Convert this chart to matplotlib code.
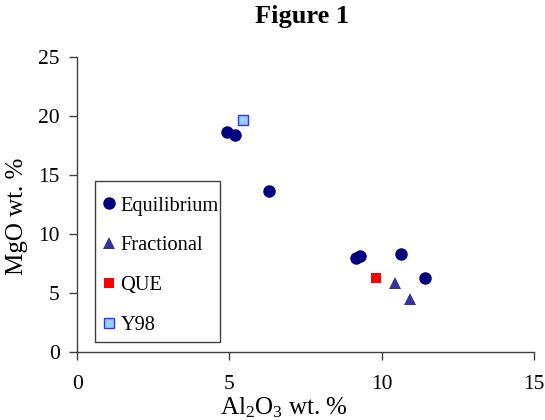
import matplotlib
matplotlib.use("Agg")
import matplotlib.pyplot as plt
from matplotlib.patches import Rectangle

plt.rcParams['font.family'] = ['Liberation Serif', 'DejaVu Serif']
plt.rcParams['mathtext.fontset'] = 'custom'
plt.rcParams['mathtext.rm'] = 'Liberation Serif'
plt.rcParams['mathtext.it'] = 'Liberation Serif:italic'
plt.rcParams['mathtext.bf'] = 'Liberation Serif:bold'

# Data
eq_al = [4.91, 5.17, 6.31, 9.16, 9.29, 10.65, 11.44]
eq_mg = [18.64, 18.42, 13.68, 7.97, 8.11, 8.34, 6.27]
fr_al = [10.45, 10.93]
fr_mg = [5.86, 4.48]
que_al = [9.83]
que_mg = [6.30]
y98_al = [5.44]
y98_mg = [19.63]

x_ticks = [0, 5, 10, 15]
y_ticks = [0, 5, 10, 15, 20, 25]

fig = plt.figure(figsize=(5.45, 4.2), dpi=100)
ax = fig.add_axes([0.1418, 0.1612, 0.9793 - 0.1418, 0.865 - 0.1612])

ax.plot(eq_al, eq_mg, 'o', color='#000080', markersize=9, markeredgewidth=0, label='Equilibrium', clip_on=False)
ax.plot(fr_al, fr_mg, '^', color='#333399', markersize=8.5, markeredgewidth=0, label='Fractional', clip_on=False)
ax.plot(que_al, que_mg, 's', color='#FF0000', markersize=7.8, markeredgewidth=0, label='QUE', clip_on=False)
ax.plot(y98_al, y98_mg, 's', markerfacecolor='#99CCFF', markeredgecolor='#3333FF', markersize=7, markeredgewidth=1, label='Y98', clip_on=False)

ax.set_xlim(0, 15)
ax.set_ylim(0, 25)
ax.set_xticks(x_ticks)
ax.set_yticks(y_ticks)
ax.spines['top'].set_visible(False)
ax.spines['right'].set_visible(False)
for s in ['left', 'bottom']:
    ax.spines[s].set_color('#404040')
    ax.spines[s].set_linewidth(1.0)
ax.tick_params(axis='x', direction='out', length=5.5, width=1, color='#404040', labelsize=15.5, pad=11)
ax.tick_params(axis='y', direction='out', length=5.5, width=1, color='#404040', labelsize=15.5, pad=7)

ax.set_xlabel('Al$_2$O$_3$ wt. %', fontsize=18)
ax.set_ylabel('MgO wt. %', fontsize=18)
ax.xaxis.set_label_coords((283.7 - 77.3) / (533.7 - 77.3), -(407.5 - 352.3) / (352.3 - 56.7))
ax.xaxis.label.set_va('center')
ax.yaxis.set_label_coords(-(77.3 - 17) / (533.7 - 77.3), (352.3 - 216) / (352.3 - 56.7))
ax.yaxis.label.set_va('center')

fig.text(302 / 545, 1 - 17 / 420, 'Figure 1', ha='center', va='center', fontsize=19, fontweight='bold')

leg = ax.legend(loc='upper left', bbox_to_anchor=(92 / 545, 1 - 184 / 420), bbox_transform=fig.transFigure,
                frameon=False, fontsize=14.7, handlelength=0.5, handletextpad=0.3,
                labelspacing=1.0, borderpad=0.6, borderaxespad=0, numpoints=1)
fig.patches.append(Rectangle((95 / 545, 1 - 342 / 420), 125 / 545, 161 / 420, transform=fig.transFigure,
                             facecolor='none', edgecolor='#404040', linewidth=1.0, zorder=5))

fig.savefig('out.png', dpi=100)
